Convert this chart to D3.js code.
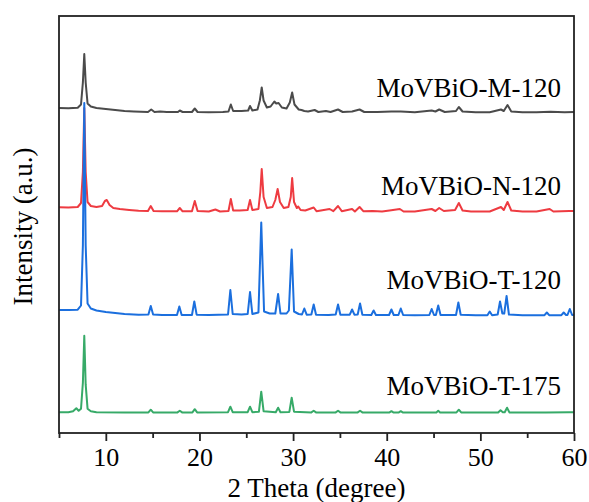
<!DOCTYPE html>
<html><head><meta charset="utf-8">
<script src="https://cdn.jsdelivr.net/npm/d3@7/dist/d3.min.js"></script>
<style>body{margin:0;background:#fff}svg{display:block}text{font-family:"Liberation Serif","Times New Roman",serif;fill:#000}</style>
</head><body><svg id="c" width="589" height="502"></svg>
<script>
const sampleNames = ["MoVBiO-M-120","MoVBiO-N-120","MoVBiO-T-120","MoVBiO-T-175"];
const sampleColors = ["#4b4b4b","#ee3b41","#1b6fde","#37aa68"];
const sampleOffsets = [320.5, 221, 117.5, 20.3];
const xTicksMajor = [10,20,30,40,50,60];
const xTicksMinor = [5,15,25,35,45,55];

const patternM = [[5,4.5],[6,4.3],[7,4.8],[7.35,8],[7.55,30],[7.7,58.5],[7.85,30],[8.05,9],[8.4,6],[9,4.5],[10,3.5],[11,2.5],[12,1.5],[13,1],[14.5,0.5],[14.85,3],[15.2,0.5],[15.8,1],[16.5,0.5],[17.7,0.5],[17.9,2],[18.2,0.5],[19.2,0.5],[19.5,4],[19.8,0.5],[21,0.3],[22.5,0.5],[23.1,1],[23.35,8],[23.6,1.5],[24.2,1.5],[24.5,1.5],[25.2,2],[25.4,6.5],[25.65,2],[26.2,3],[26.45,12],[26.65,25],[26.85,12],[27.2,5],[27.6,6],[28.0,11],[28.2,9],[28.45,9.5],[28.8,5],[29.3,4],[29.65,10],[29.9,20],[30.15,8],[30.6,3],[30.9,2.5],[31.2,1.5],[31.6,1],[32.3,2.5],[32.7,0.5],[33.5,1.5],[34,0.5],[34.8,3],[35.3,0.5],[36.3,1],[37.1,3],[37.6,0.5],[39,0.5],[40.5,1],[41.5,1],[43,0.3],[44.8,2],[45.2,1],[45.6,3],[46.2,0.5],[47.4,1.5],[47.7,5.5],[48.1,1],[49.5,0.3],[51,0.3],[52.2,3],[52.5,1.5],[52.9,7.5],[53.3,1],[54.5,0.3],[56,0.3],[57.5,0.8],[59,0.2],[60,0.5]];

const patternN = [[5,4.7],[6,4.5],[7,5],[7.35,9],[7.55,40],[7.7,104],[7.85,40],[8.05,10],[8.4,6],[9,5],[9.6,6],[9.9,11],[10.1,12],[10.4,7],[10.8,4],[11.5,3],[12.5,2],[13.5,1.2],[14.5,1],[14.8,6],[15.1,1],[16,0.8],[17.6,0.7],[17.9,4],[18.2,0.7],[19.2,0.8],[19.5,11],[19.8,1],[21,0.5],[21.7,2.5],[22.2,0.5],[23.1,1],[23.35,13],[23.6,1.5],[24.3,1.5],[25.15,2],[25.4,12],[25.65,2],[26.3,3],[26.5,20],[26.65,43],[26.85,15],[27.2,4],[27.8,5],[28.1,12],[28.35,23],[28.6,10],[29.0,4],[29.5,5],[29.75,15],[29.9,34],[30.1,10],[30.4,4],[30.55,5.5],[30.8,2],[31.3,1.5],[32.2,4.5],[32.5,0.8],[33.9,3],[34.3,0.8],[34.8,6],[35.2,0.8],[36.3,3],[36.6,0.5],[37.1,5],[37.5,0.8],[38.5,1],[39.5,0.5],[40.3,1.5],[41.4,3],[41.8,0.5],[43,0.5],[44.8,3],[45.2,1],[45.6,4],[46.1,1],[47.3,2],[47.7,9],[48.1,1.5],[49,0.5],[51,0.5],[52.2,5],[52.5,2],[52.9,10],[53.3,1.5],[54.5,0.5],[56,0.5],[57.4,3],[57.8,0.5],[59.5,1],[60,1]];

const patternT120 = [[5,5.5],[6,5.5],[7,5.8],[7.35,10],[7.55,70],[7.7,212.5],[7.85,70],[8.05,12],[8.4,7],[9,5],[10,3.5],[11,2.5],[12,1.5],[13.5,0.8],[14.55,1],[14.8,9.5],[15.05,1],[16,0.5],[17.6,0.5],[17.85,9],[18.1,0.5],[19.2,0.5],[19.45,14],[19.7,0.8],[21,0.5],[23.05,1],[23.3,25.5],[23.55,1.5],[24.5,1],[25.15,1.5],[25.4,23.5],[25.65,1.5],[26.3,3],[26.6,93],[26.9,4],[27.5,2],[28.1,2],[28.4,21.5],[28.65,2],[29.3,2],[29.55,5],[29.85,66],[30.1,4],[30.6,1.5],[30.95,1],[31.2,7],[31.45,0.8],[31.95,1],[32.2,11],[32.45,0.8],[33.8,0.5],[34.55,1],[34.8,11],[35.05,0.8],[36.05,0.8],[36.3,6],[36.55,0.8],[36.9,1],[37.15,12],[37.4,0.8],[38.35,0.5],[38.6,5],[38.85,0.5],[40.25,0.5],[40.5,6],[40.75,0.5],[41.25,0.5],[41.5,7],[41.75,0.5],[43,0.3],[44.55,0.5],[44.8,6.5],[45.05,0.5],[45.25,0.5],[45.5,10],[45.75,0.5],[47.4,0.5],[47.65,13],[47.9,0.8],[49.5,0.3],[50.75,0.3],[51.0,4],[51.25,0.3],[51.85,1],[52.1,14],[52.35,2],[52.55,2],[52.8,19.5],[53.05,1],[54.5,0.3],[56,0.3],[56.85,0.3],[57.1,3],[57.35,0.3],[58.65,0.3],[58.9,3],[59.15,0.5],[59.3,0.5],[59.55,6.5],[59.8,0.5],[60,0.5]];

const patternT175 = [[5,0.5],[6,0.5],[6.5,1.5],[6.85,4.5],[7.1,2],[7.35,4],[7.55,30],[7.7,77],[7.85,28],[8.05,4],[8.4,1.5],[9,0.5],[12,0.3],[14.55,0.3],[14.8,3],[15.05,0.3],[17.65,0.3],[17.9,2],[18.15,0.3],[19.25,0.3],[19.5,3.5],[19.75,0.3],[23.05,0.5],[23.3,6],[23.55,0.5],[25.15,0.5],[25.4,6],[25.65,0.5],[26.35,1],[26.6,21],[26.85,1.5],[28.15,0.5],[28.4,5],[28.65,0.5],[29.6,0.8],[29.85,15],[30.1,1],[31.95,0.3],[32.2,2],[32.45,0.3],[34.55,0.3],[34.8,2],[35.05,0.3],[36.9,0.3],[37.15,2],[37.4,0.3],[40.3,0.3],[40.5,1.5],[40.7,0.3],[41.3,0.3],[41.5,1.5],[41.7,0.3],[45.3,0.3],[45.5,2],[45.7,0.3],[47.45,0.3],[47.7,3],[47.95,0.3],[51.9,0.3],[52.15,2.5],[52.4,0.5],[52.6,0.5],[52.85,5],[53.1,0.3],[57,0.3],[59.5,0.5],[60,0.5]];

const patterns = [patternM, patternN, patternT120, patternT175];

// layout
const L = 59, R = 574, T = 16, B = 433;
const svg = d3.select("#c");
const x = d3.scaleLinear().domain([5,60]).range([L,R]);
const y = d3.scaleLinear().domain([0,417]).range([B,T]);

const line = d3.line().x(d=>x(d[0])).y(d=>y(d[1])).curve(d3.curveLinear);

const g = svg.append("g");
patterns.forEach((p,i)=>{
  const off = sampleOffsets[i];
  g.append("path")
    .datum(p.map(d=>[d[0], d[1]+off]))
    .attr("d", line)
    .attr("fill","none")
    .attr("stroke", sampleColors[i])
    .attr("stroke-width", 2)
    .attr("stroke-linejoin","round");
});

// labels
const labelGap = [16, 17, 27, 17.5];
sampleNames.forEach((n,i)=>{
  svg.append("text").attr("x", 561).attr("y", y(sampleOffsets[i]) - labelGap[i])
    .attr("text-anchor","end").style("font-size","27px").text(n);
});

// frame
svg.append("rect").attr("x",L).attr("y",T).attr("width",R-L).attr("height",B-T)
  .attr("fill","none").attr("stroke","#222").attr("stroke-width",1.8);

// x axis
const ax = svg.append("g").attr("transform",`translate(0,${B})`)
  .call(d3.axisBottom(x).tickValues(xTicksMajor).tickSize(8).tickSizeOuter(0).tickPadding(7).tickFormat(d3.format("d")));
ax.select(".domain").remove();
ax.selectAll("line").attr("stroke","#222").attr("stroke-width",1.8);
ax.selectAll("text").style("font-size","26px").style("font-family","Liberation Serif, serif").attr("fill","#000");
const axm = svg.append("g").attr("transform",`translate(0,${B})`)
  .call(d3.axisBottom(x).tickValues(xTicksMinor).tickSize(5).tickSizeOuter(0).tickFormat(""));
axm.select(".domain").remove();
axm.selectAll("line").attr("stroke","#222").attr("stroke-width",1.8);

svg.append("text").attr("x",(L+R)/2).attr("y",497).attr("text-anchor","middle").style("font-size","27px").text("2 Theta (degree)");
svg.append("text").attr("transform",`translate(32,${(T+B)/2+2}) rotate(-90)`).attr("text-anchor","middle").style("font-size","27px").text("Intensity (a.u.)");
</script></body></html>
